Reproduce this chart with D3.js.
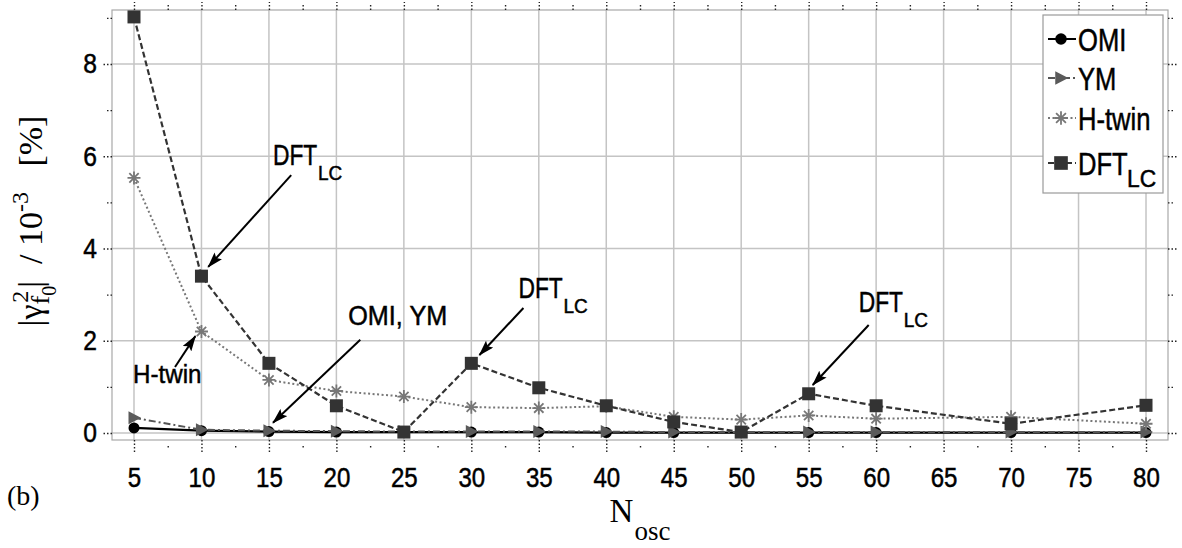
<!DOCTYPE html>
<html><head><meta charset="utf-8">
<script src="https://cdn.jsdelivr.net/npm/d3@7"></script>
<style>
html,body{margin:0;padding:0;background:#fff;}
svg{display:block;}
</style>
</head><body>
<svg id="chart" width="1182" height="548"></svg>
<script>
// ---------- data ----------
const xTickValues = [5,10,15,20,25,30,35,40,45,50,55,60,65,70,75,80];
const xMinorValues = [7.5,12.5,17.5,22.5,27.5,32.5,37.5,42.5,47.5,52.5,57.5,62.5,67.5,72.5,77.5];
const yTickValues = [0,2,4,6,8];
const yMinorValues = [1,3,5,7,9];
const nOsc  = [5,10,15,20,25,30,35,40,45,50,55,60,70,80];
const omi   = [0.11,0.05,0.03,0.02,0.02,0.02,0.02,0.01,0.01,0.01,0.01,0.01,0.01,0.01];
const ym    = [0.33,0.07,0.05,0.04,0.03,0.03,0.03,0.03,0.02,0.02,0.02,0.02,0.02,0.02];
const hTwin = [5.53,2.20,1.15,0.91,0.79,0.56,0.54,0.58,0.35,0.29,0.38,0.31,0.35,0.20];
const dftLC = [9.02,3.40,1.51,0.59,0.02,1.51,0.98,0.59,0.24,0.02,0.85,0.59,0.20,0.60];
const seriesNames = ["OMI","YM","H-twin","DFT"];

// annotations in data coordinates
const annotations = [
  {label:"DFT", sub:"LC", tx:15.3, ty:5.81, x1:16.65, y1:5.59, x2:10.5, y2:3.60},
  {label:"H-twin",        tx:4.93, ty:1.08, x1:8.04,  y1:1.43, x2:9.55, y2:2.10},
  {label:"OMI, YM",       tx:20.88,ty:2.34, x1:21.77, y1:2.02, x2:15.3, y2:0.22},
  {label:"DFT", sub:"LC", tx:33.49,ty:2.93, x1:33.86, y1:2.71, x2:30.6, y2:1.69},
  {label:"DFT", sub:"LC", tx:58.71,ty:2.62, x1:59.45, y1:2.34, x2:55.3, y2:1.04}
];

// ---------- layout ----------
const L = 112, R = 1168, T = 10, B = 440;
const svg = d3.select("#chart");
const SANS = "'Liberation Sans', Arial, Helvetica, sans-serif";
const SERIF = "'Liberation Serif', 'Times New Roman', Times, serif";

const pad = 1.63;
const x = d3.scaleLinear().domain([xTickValues[0]-pad, xTickValues[xTickValues.length-1]+pad]).range([L,R]);
const y = d3.scaleLinear().domain([-0.152, 9.17]).range([B,T]);

// grid
const grid = svg.append("g");
grid.selectAll("line.vx").data(xTickValues).join("line")
  .attr("x1",d=>x(d)).attr("x2",d=>x(d)).attr("y1",T).attr("y2",B)
  .attr("stroke","#c4c4c4").attr("stroke-width",1.5);
grid.selectAll("line.hy").data(yTickValues).join("line")
  .attr("x1",L).attr("x2",R).attr("y1",d=>y(d)).attr("y2",d=>y(d))
  .attr("stroke","#c4c4c4").attr("stroke-width",1.5);

// frame
svg.append("rect").attr("x",L).attr("y",T).attr("width",R-L).attr("height",B-T)
  .attr("fill","none").attr("stroke","#a8a8a8").attr("stroke-width",1.2);

// axes
function styleAxis(g){
  g.select(".domain").remove();
  g.selectAll(".tick line").attr("stroke","#222").attr("stroke-width",1.4).attr("stroke-dasharray","1.5,2");
}
const fmt = d3.format("d");
const axB = svg.append("g").attr("transform",`translate(0,${B})`)
  .call(d3.axisBottom(x).tickValues(xTickValues).tickSize(12).tickPadding(15).tickFormat(fmt));
styleAxis(axB);
axB.selectAll("text").attr("font-family",SANS).attr("font-size",28).attr("fill","#000")
  .attr("stroke","#000").attr("stroke-width",0.5)
  .attr("transform","scale(0.86,1)");
const axBm = svg.append("g").attr("transform",`translate(0,${B})`)
  .call(d3.axisBottom(x).tickValues(xMinorValues).tickSize(9).tickFormat(""));
styleAxis(axBm); axBm.selectAll(".tick line").attr("y1",6);

const axL = svg.append("g").attr("transform",`translate(${L},0)`)
  .call(d3.axisLeft(y).tickValues(yTickValues).tickSize(9).tickPadding(8).tickFormat(fmt));
styleAxis(axL);
axL.selectAll("text").attr("font-family",SANS).attr("font-size",28).attr("fill","#000")
  .attr("stroke","#000").attr("stroke-width",0.5)
  .attr("transform","scale(0.88,1)");
const axLm = svg.append("g").attr("transform",`translate(${L},0)`)
  .call(d3.axisLeft(y).tickValues(yMinorValues.filter(v=>v<9.1)).tickSize(5).tickFormat(""));
styleAxis(axLm);

const axT = svg.append("g").attr("transform",`translate(0,${T})`)
  .call(d3.axisTop(x).tickValues(xTickValues).tickSize(8).tickFormat(""));
styleAxis(axT);
const axTm = svg.append("g").attr("transform",`translate(0,${T})`)
  .call(d3.axisTop(x).tickValues(xMinorValues).tickSize(5).tickFormat(""));
styleAxis(axTm);
const axR = svg.append("g").attr("transform",`translate(${R},0)`)
  .call(d3.axisRight(y).tickValues(yTickValues).tickSize(10).tickFormat(""));
styleAxis(axR);
const axRm = svg.append("g").attr("transform",`translate(${R},0)`)
  .call(d3.axisRight(y).tickValues(yMinorValues.filter(v=>v<9.1)).tickSize(6).tickFormat(""));
styleAxis(axRm);

// ---------- series ----------
const asterisk = s => { const d = s*0.72; return `M${-s},0L${s},0M0,${-s}L0,${s}M${-d},${-d}L${d},${d}M${-d},${d}L${d},${-d}`; };
const series = [
  {name:"OMI", vals:omi, color:"#000", dash:null, width:2.2, marker:"circle", mcolor:"#000"},
  {name:"YM", vals:ym, color:"#555", dash:"7,3,2,3", width:2, marker:"tri", mcolor:"#5a5a5a"},
  {name:"H-twin", vals:hTwin, color:"#777", dash:"2,2.5", width:2, marker:"star", mcolor:"#777"},
  {name:"DFT", vals:dftLC, color:"#333", dash:"6,3", width:2.2, marker:"square", mcolor:"#333"}
];
const line = d3.line().x(d=>x(d[0])).y(d=>y(d[1]));

function drawMarker(g, type, cx, cy, color, k){
  k = k||1;
  if(type==="circle") g.append("circle").attr("cx",cx).attr("cy",cy).attr("r",5.5*k).attr("fill",color);
  else if(type==="tri") g.append("path").attr("d",`M${cx-5.5*k},${cy-6.5*k}L${cx+7*k},${cy}L${cx-5.5*k},${cy+6.5*k}Z`).attr("fill",color);
  else if(type==="star") g.append("path").attr("d",asterisk(6.5*k)).attr("transform",`translate(${cx},${cy})`)
      .attr("stroke",color).attr("stroke-width",1.8).attr("fill","none");
  else if(type==="square") g.append("rect").attr("x",cx-6.5*k).attr("y",cy-6.5*k).attr("width",13*k).attr("height",13*k).attr("fill",color);
}

series.forEach(s=>{
  const pts = nOsc.map((n,i)=>[n,s.vals[i]]);
  const g = svg.append("g");
  g.append("path").attr("d",line(pts)).attr("fill","none").attr("stroke",s.color)
    .attr("stroke-width",s.width).attr("stroke-dasharray",s.dash);
  pts.forEach(p=>drawMarker(g, s.marker, x(p[0]), y(p[1]), s.mcolor));
});

// ---------- annotations ----------
const defs = svg.append("defs");
defs.append("marker").attr("id","arr").attr("markerUnits","userSpaceOnUse")
  .attr("markerWidth",16).attr("markerHeight",10).attr("refX",15).attr("refY",5)
  .attr("orient","auto").append("path").attr("d","M0,0L16,5L0,10L3,5Z").attr("fill","#000");

function narrowText(g, px, py, str, size, sx, anchor){
  return g.append("text").attr("transform",`translate(${px},${py}) scale(${sx},1)`)
    .attr("font-family",SANS).attr("font-size",size).attr("fill","#000")
    .attr("stroke","#000").attr("stroke-width",0.5)
    .attr("text-anchor",anchor||"start").text(str);
}
const ann = svg.append("g");
annotations.forEach(a=>{
  ann.append("line").attr("x1",x(a.x1)).attr("y1",y(a.y1)).attr("x2",x(a.x2)).attr("y2",y(a.y2))
    .attr("stroke","#000").attr("stroke-width",2).attr("marker-end","url(#arr)");
  if(a.sub){
    narrowText(ann, x(a.tx), y(a.ty), a.label, 30, 0.76);
    narrowText(ann, x(a.tx)+45, y(a.ty)+15, a.sub, 20, 0.95);
  } else if(a.label==="H-twin"){
    narrowText(ann, x(a.tx), y(a.ty), a.label, 26, 0.93);
  } else {
    narrowText(ann, x(a.tx), y(a.ty), a.label, 28, 0.9);
  }
});

// ---------- legend ----------
const lg = svg.append("g");
lg.append("rect").attr("x",1043).attr("y",15).attr("width",120).attr("height",178)
  .attr("fill","#fff").attr("stroke","#9a9a9a").attr("stroke-width",1.2);
const rowY = [39,78,118,163];
series.forEach((s,i)=>{
  const cy = rowY[i];
  lg.append("line").attr("x1",1048).attr("x2",1076).attr("y1",cy).attr("y2",cy)
    .attr("stroke",s.color).attr("stroke-width",2).attr("stroke-dasharray",s.dash);
  drawMarker(lg, s.marker, 1061, cy, s.mcolor, 1.05);
  narrowText(lg, 1078, cy+12, s.name, 32, 0.8);
  if(s.name==="DFT") narrowText(lg, 1127, cy+24, "LC", 24, 0.95);
});

// ---------- titles ----------
const yt = svg.append("text").attr("transform","translate(42,221) rotate(-90)")
  .attr("font-family",SERIF).attr("font-size",34).attr("fill","#000").attr("text-anchor","middle");
yt.append("tspan").text("|\u03b3");
yt.append("tspan").attr("font-size",26).attr("dy",7).text("f");
yt.append("tspan").attr("font-size",20).attr("dy",7).text("0");
yt.append("tspan").attr("font-size",24).attr("dx",-17).attr("dy",-28).text("2");
yt.append("tspan").attr("font-size",34).attr("dy",14).attr("dx",3).text("|");
yt.append("tspan").attr("font-size",34).text("\u00a0\u00a0/ 10");
yt.append("tspan").attr("font-size",24).attr("dy",-14).text("-3");
yt.append("tspan").attr("font-size",34).attr("dy",14).text("\u00a0\u00a0\u00a0[%]");

const xt = svg.append("text").attr("x",(L+R)/2).attr("y",522).attr("text-anchor","middle")
  .attr("font-family",SERIF).attr("font-size",33).attr("fill","#000");
xt.append("tspan").text("N");
xt.append("tspan").attr("font-size",27).attr("dy",18).attr("dx",1).text("osc");

svg.append("text").attr("x",7).attr("y",505).attr("font-family",SERIF).attr("font-size",28)
  .attr("fill","#000").text("(b)");
</script>
</body></html>
